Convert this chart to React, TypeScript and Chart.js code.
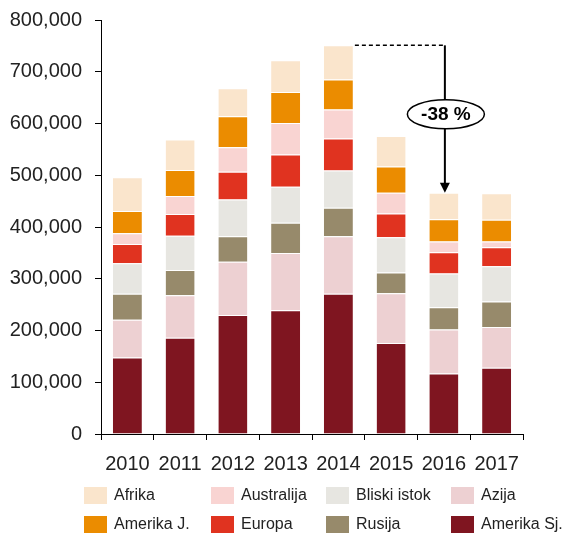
import React, { useEffect, useRef } from 'react';
import { Chart, registerables } from 'chart.js';

Chart.register(...registerables);

const years = ['2010', '2011', '2012', '2013', '2014', '2015', '2016', '2017'];

const amerikaSj = [148000, 186000, 230000, 239000, 271000, 176000, 117000, 128000];
const azija = [73000, 82000, 103000, 111000, 111000, 96000, 85000, 79000];
const rusija = [50000, 49000, 49000, 58000, 55000, 40000, 43000, 49000];
const bliskiIstok = [59000, 66000, 71000, 70000, 72000, 68000, 65000, 68000];
const europa = [37000, 42000, 54000, 62000, 62000, 46000, 41000, 37000];
const australija = [21000, 35000, 47000, 61000, 56000, 40000, 21000, 11000];
const amerikaJ = [43000, 50000, 60000, 60000, 58000, 51000, 43000, 42000];
const afrika = [65000, 59000, 54000, 61000, 66000, 59000, 51000, 51000];

const yTicks = [0, 100000, 200000, 300000, 400000, 500000, 600000, 700000, 800000];

const FONT = '"Liberation Sans", Arial, Helvetica, sans-serif';
const TEXT = '#222222';

const seriesDefs = [
  { label: 'Amerika Sj.', data: amerikaSj, color: '#7F1520' },
  { label: 'Azija', data: azija, color: '#EDD0D2' },
  { label: 'Rusija', data: rusija, color: '#978A6B' },
  { label: 'Bliski istok', data: bliskiIstok, color: '#E7E6E1' },
  { label: 'Europa', data: europa, color: '#E03320' },
  { label: 'Australija', data: australija, color: '#F9D4D2' },
  { label: 'Amerika J.', data: amerikaJ, color: '#EB8C00' },
  { label: 'Afrika', data: afrika, color: '#FAE5CC' },
];

const fromIdx = 4; // 2014
const toIdx = 6; // 2016
const labelValue = 618000;

const totalAt = (i: number) => seriesDefs.reduce((s, d) => s + d.data[i], 0);

const legendPlugin = {
  id: 'gridLegend',
  afterDraw(chart: any) {
    const ctx = chart.ctx;
    const items = [...seriesDefs].reverse();
    const colX = [84, 211, 326, 451];
    const rowY = [487, 516];
    ctx.save();
    ctx.font = `16px ${FONT}`;
    ctx.textBaseline = 'middle';
    ctx.textAlign = 'left';
    items.forEach((it, i) => {
      const col = Math.floor(i / 2);
      const row = i % 2;
      const x = colX[col];
      const y = rowY[row];
      ctx.fillStyle = it.color;
      ctx.fillRect(x, y, 23, 17);
      ctx.fillStyle = TEXT;
      ctx.fillText(it.label, x + 30, y + 9);
    });
    ctx.restore();
  },
};

const arrowPlugin = {
  id: 'dropArrow',
  afterDatasetsDraw(chart: any) {
    const ctx = chart.ctx;
    const ys = chart.scales.y;
    const meta = chart.getDatasetMeta(chart.data.datasets.length - 1);
    const bFrom = meta.data[fromIdx];
    const bTo = meta.data[toIdx];
    const t1 = totalAt(fromIdx);
    const t2 = totalAt(toIdx);
    const y1 = ys.getPixelForValue(t1);
    const y2 = ys.getPixelForValue(t2);
    const xStart = bFrom.x + bFrom.width / 2 + 2;
    const xA = bTo.x + 1;
    const yl = ys.getPixelForValue(labelValue);
    const pct = Math.round((t2 / t1 - 1) * 100);
    ctx.save();
    ctx.strokeStyle = '#000';
    ctx.lineWidth = 1.5;
    ctx.setLineDash([4, 3]);
    ctx.beginPath();
    ctx.moveTo(xStart, y1);
    ctx.lineTo(xA, y1);
    ctx.stroke();
    ctx.setLineDash([]);
    ctx.lineWidth = 2;
    ctx.beginPath();
    ctx.moveTo(xA, y1);
    ctx.lineTo(xA, y2 - 8);
    ctx.stroke();
    ctx.fillStyle = '#000';
    ctx.beginPath();
    ctx.moveTo(xA - 5, y2 - 10);
    ctx.lineTo(xA + 5, y2 - 10);
    ctx.lineTo(xA, y2);
    ctx.closePath();
    ctx.fill();
    ctx.beginPath();
    ctx.ellipse(xA + 1, yl, 38.5, 14.5, 0, 0, Math.PI * 2);
    ctx.fillStyle = '#fff';
    ctx.fill();
    ctx.lineWidth = 1.5;
    ctx.stroke();
    ctx.fillStyle = '#000';
    ctx.font = `bold 19px ${FONT}`;
    ctx.textAlign = 'center';
    ctx.textBaseline = 'middle';
    ctx.fillText(`${pct} %`, xA + 1, yl + 1);
    ctx.restore();
  },
};

export default function App() {
  const ref = useRef<HTMLCanvasElement | null>(null);

  useEffect(() => {
    document.body.style.margin = '0';
    const canvas = ref.current;
    if (!canvas) return;
    const chart = new Chart(canvas, {
      type: 'bar',
      data: {
        labels: years,
        datasets: seriesDefs.map((d) => ({
          label: d.label,
          data: d.data,
          backgroundColor: d.color,
          borderColor: 'rgba(255,255,255,0.9)',
          borderWidth: { top: 1, left: 0, right: 0, bottom: 0 },
          borderSkipped: 'start',
          barPercentage: 0.55,
          categoryPercentage: 1,
        })),
      },
      options: {
        animation: false,
        responsive: true,
        maintainAspectRatio: false,
        layout: { padding: { top: 20, right: 46, bottom: 60, left: 0 } },
        plugins: {
          legend: { display: false },
          tooltip: { enabled: false },
          title: { display: false },
        },
        scales: {
          x: {
            stacked: true,
            grid: {
              display: true,
              drawOnChartArea: false,
              drawTicks: true,
              tickLength: 6,
              color: '#000',
              offset: true,
            },
            border: { display: true, color: '#000', width: 1 },
            ticks: {
              color: TEXT,
              font: { family: FONT, size: 20 },
              padding: 12,
              maxRotation: 0,
            },
            afterFit(scale: any) {
              scale.height = 40;
              scale.paddingLeft = 0;
              scale.paddingRight = 0;
            },
          },
          y: {
            stacked: true,
            min: 0,
            max: 800000,
            afterBuildTicks(scale: any) {
              scale.ticks = yTicks.map((v) => ({ value: v }));
            },
            grid: {
              display: true,
              drawOnChartArea: false,
              drawTicks: true,
              tickLength: 6,
              color: '#000',
            },
            border: { display: true, color: '#000', width: 1 },
            ticks: {
              color: TEXT,
              font: { family: FONT, size: 20 },
              padding: 13,
              callback: (v: any) => Number(v).toLocaleString('en-US'),
            },
            afterFit(scale: any) {
              scale.width = 101;
              scale.paddingTop = 0;
              scale.paddingBottom = 0;
            },
          },
        },
      },
      plugins: [arrowPlugin, legendPlugin],
    });
    return () => chart.destroy();
  }, []);

  return (
    <div style={{ width: 569, height: 534, position: 'relative' }}>
      <canvas ref={ref} />
    </div>
  );
}
